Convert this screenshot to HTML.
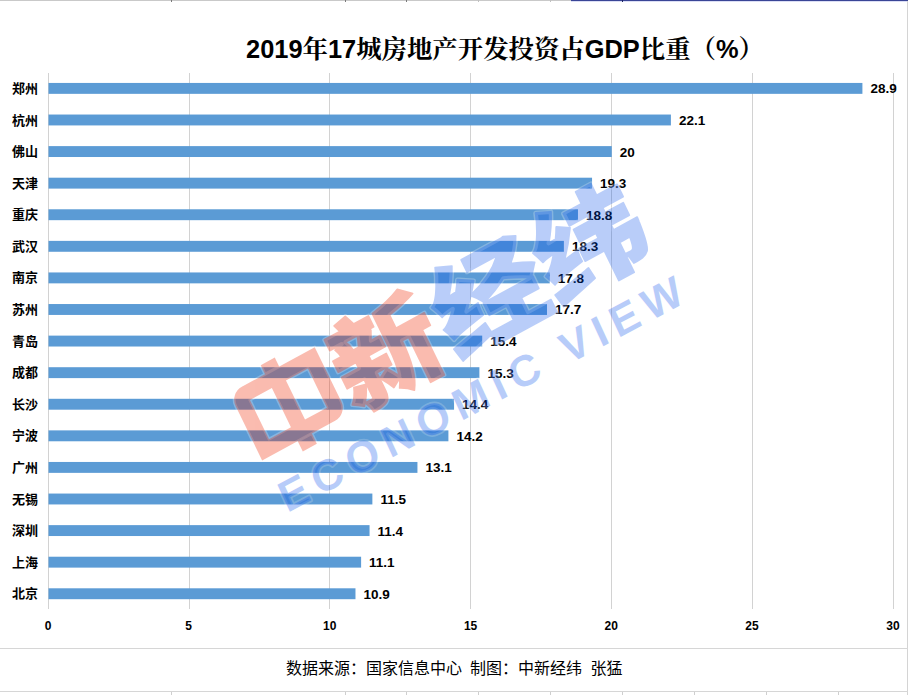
<!DOCTYPE html><html><head><meta charset="utf-8"><title>chart</title><style>html,body{margin:0;padding:0;background:#fff;overflow:hidden;font-family:"Liberation Sans",sans-serif}#c{position:relative;width:908px;height:695px;overflow:hidden}</style></head><body><div id="c"><svg width="908" height="695" viewBox="0 0 908 695" style="position:absolute;left:0;top:0;display:block">
<rect width="908" height="695" fill="#fff"/>
<g shape-rendering="crispEdges">
<rect x="0" y="0" width="571" height="1" fill="#c9c9c9"/>
<rect x="571" y="0" width="337" height="1" fill="#3a4596"/>
<rect x="571" y="1" width="337" height="1" fill="#c3c8ee" opacity="0.6"/>
<rect x="907" y="1" width="1" height="694" fill="#d4d4d4"/>
<rect x="0" y="648" width="908" height="1" fill="#d6d6d6"/>
<rect x="0" y="691" width="908" height="1" fill="#d6d6d6"/>
<rect x="171" y="692" width="1" height="3" fill="#cfcfcf"/>
<rect x="345" y="692" width="1" height="3" fill="#cfcfcf"/>
<rect x="406" y="692" width="1" height="3" fill="#cfcfcf"/>
<rect x="478" y="692" width="1" height="3" fill="#cfcfcf"/>
<rect x="550" y="692" width="1" height="3" fill="#cfcfcf"/>
<rect x="622" y="692" width="1" height="3" fill="#cfcfcf"/>
<rect x="694" y="692" width="1" height="3" fill="#cfcfcf"/>
<rect x="766" y="692" width="1" height="3" fill="#cfcfcf"/>
<rect x="838" y="692" width="1" height="3" fill="#cfcfcf"/>
<rect x="171" y="0" width="1" height="2" fill="#7a7a7a"/>
<rect x="345" y="0" width="1" height="2" fill="#7a7a7a"/>
<rect x="406" y="0" width="1" height="2" fill="#7a7a7a"/>
<rect x="478" y="0" width="1" height="2" fill="#c0c0c0"/>
<rect x="550" y="0" width="1" height="2" fill="#c0c0c0"/>
<rect x="622" y="0" width="1" height="2" fill="#1d2460"/>
</g>
<g fill="#d2d2d2" shape-rendering="crispEdges">
<rect x="48" y="73" width="1" height="536"/>
<rect x="189" y="73" width="1" height="536"/>
<rect x="329" y="73" width="1" height="536"/>
<rect x="470" y="73" width="1" height="536"/>
<rect x="611" y="73" width="1" height="536"/>
<rect x="752" y="73" width="1" height="536"/>
<rect x="893" y="73" width="1" height="536"/>
</g>
<g fill="#5b9bd5">
<rect x="48.50" y="82.94" width="813.91" height="10.9"/>
<rect x="48.50" y="114.53" width="622.40" height="10.9"/>
<rect x="48.50" y="146.11" width="563.26" height="10.9"/>
<rect x="48.50" y="177.70" width="543.55" height="10.9"/>
<rect x="48.50" y="209.28" width="529.46" height="10.9"/>
<rect x="48.50" y="240.87" width="515.38" height="10.9"/>
<rect x="48.50" y="272.45" width="501.30" height="10.9"/>
<rect x="48.50" y="304.04" width="498.49" height="10.9"/>
<rect x="48.50" y="335.62" width="433.71" height="10.9"/>
<rect x="48.50" y="367.21" width="430.89" height="10.9"/>
<rect x="48.50" y="398.79" width="405.55" height="10.9"/>
<rect x="48.50" y="430.38" width="399.91" height="10.9"/>
<rect x="48.50" y="461.96" width="368.94" height="10.9"/>
<rect x="48.50" y="493.55" width="323.87" height="10.9"/>
<rect x="48.50" y="525.13" width="321.06" height="10.9"/>
<rect x="48.50" y="556.72" width="312.61" height="10.9"/>
<rect x="48.50" y="588.30" width="306.98" height="10.9"/>
</g>
<text x="246" y="57.6" font-size="25.5" font-weight="bold" fill="#000" textLength="518" lengthAdjust="spacingAndGlyphs" font-family="'Liberation Sans','Noto Serif CJK SC',serif">2019年17城房地产开发投资占GDP比重（%）</text>
<g font-family="'Liberation Sans','Noto Sans CJK SC',sans-serif" font-size="13" font-weight="bold" fill="#000">
<text x="12" y="92.9">郑州</text>
<text x="12" y="124.5">杭州</text>
<text x="12" y="156.1">佛山</text>
<text x="12" y="187.7">天津</text>
<text x="12" y="219.2">重庆</text>
<text x="12" y="250.8">武汉</text>
<text x="12" y="282.4">南京</text>
<text x="12" y="314.0">苏州</text>
<text x="12" y="345.6">青岛</text>
<text x="12" y="377.2">成都</text>
<text x="12" y="408.7">长沙</text>
<text x="12" y="440.3">宁波</text>
<text x="12" y="471.9">广州</text>
<text x="12" y="503.5">无锡</text>
<text x="12" y="535.1">深圳</text>
<text x="12" y="566.7">上海</text>
<text x="12" y="598.3">北京</text>
</g>
<g font-family="'Liberation Sans',sans-serif" font-size="13.5" font-weight="bold" fill="#000">
<text x="870.4" y="93.39">28.9</text>
<text x="678.9" y="124.98">22.1</text>
<text x="619.8" y="156.56">20</text>
<text x="600.05" y="188.15">19.3</text>
<text x="586" y="219.73">18.8</text>
<text x="571.9" y="251.32">18.3</text>
<text x="557.8" y="282.9">17.8</text>
<text x="555" y="314.49">17.7</text>
<text x="490.2" y="346.07">15.4</text>
<text x="487.4" y="377.66">15.3</text>
<text x="462" y="409.24">14.4</text>
<text x="456.4" y="440.83">14.2</text>
<text x="425.4" y="472.41">13.1</text>
<text x="380.4" y="504">11.5</text>
<text x="377.6" y="535.58">11.4</text>
<text x="369.1" y="567.17">11.1</text>
<text x="363.5" y="598.75">10.9</text>
</g>
<g font-family="'Liberation Sans',sans-serif" font-size="12" font-weight="bold" fill="#000" text-anchor="middle">
<text x="48" y="629.8">0</text>
<text x="188.6" y="629.8">5</text>
<text x="329.8" y="629.8">10</text>
<text x="470.6" y="629.8">15</text>
<text x="611.2" y="629.8">20</text>
<text x="751.9" y="629.8">25</text>
<text x="892.9" y="629.8">30</text>
</g>
<g font-family="'Liberation Sans','Noto Sans CJK SC',sans-serif" font-size="16" fill="#000">
<text x="286" y="674.2">数据来源：国家信息中心</text>
<text x="470" y="674.2">制图：中新经纬</text>
<text x="590.5" y="674.2">张猛</text>
</g>
<g transform="matrix(0.8788 -0.4772 0.4384 0.8988 267.2 470.8)">
<path fill="none" stroke="#fff" stroke-opacity="0.25" stroke-width="3" stroke-linejoin="round" d="M14 -86H97V-25.5A14 14 0 0 1 83 -11.5H0V-72A14 14 0 0 1 14 -86ZM15.5 -70.5H40.5V-27.0H15.5ZM56.5 -70.5H81.5V-27.0H56.5ZM40.5 -96H56.5V-86H40.5ZM40.5 -11.5H56.5V0H40.5Z"/>
<g fill="none" stroke="#fff" stroke-opacity="0.25" stroke-width="4.2" stroke-linejoin="round" font-family="'Liberation Sans','Noto Sans CJK SC',sans-serif" font-size="104" font-weight="900">
<text x="103.5" y="-9" textLength="110" lengthAdjust="spacingAndGlyphs">新</text>
<text x="218.5" y="-9" textLength="230" lengthAdjust="spacingAndGlyphs">经纬</text>
</g>
<g opacity="0.31"><path fill="#f02800" fill-rule="evenodd" d="M14 -86H97V-25.5A14 14 0 0 1 83 -11.5H0V-72A14 14 0 0 1 14 -86ZM15.5 -70.5H40.5V-27.0H15.5ZM56.5 -70.5H81.5V-27.0H56.5ZM40.5 -96H56.5V-86H40.5ZM40.5 -11.5H56.5V0H40.5Z"/><text x="103.5" y="-9" textLength="110" lengthAdjust="spacingAndGlyphs" fill="#f02800" stroke="#f02800" stroke-width="1.6" stroke-linejoin="round" font-family="'Liberation Sans','Noto Sans CJK SC',sans-serif" font-size="104" font-weight="900">新</text></g>
<g opacity="0.27"><text x="218.5" y="-9" textLength="230" lengthAdjust="spacingAndGlyphs" fill="#004bea" stroke="#004bea" stroke-width="1.6" stroke-linejoin="round" font-family="'Liberation Sans','Noto Sans CJK SC',sans-serif" font-size="104" font-weight="900">经纬</text></g>
</g>
<g transform="matrix(0.8842 -0.4671 0.4202 0.9074 293.80 492.00)"><text x="-14.7" y="15.48" font-family="'Liberation Sans',sans-serif" font-size="43.2" font-weight="bold" letter-spacing="7.6" fill="none" stroke="#fff" stroke-opacity="0.2" stroke-width="3.4" stroke-linejoin="round">ECONOMIC VIEW</text><text x="-14.7" y="15.48" font-family="'Liberation Sans',sans-serif" font-size="43.2" font-weight="bold" letter-spacing="7.6" opacity="0.28" fill="#004bea" stroke="none">ECONOMIC VIEW</text></g>
</svg></div></body></html>
